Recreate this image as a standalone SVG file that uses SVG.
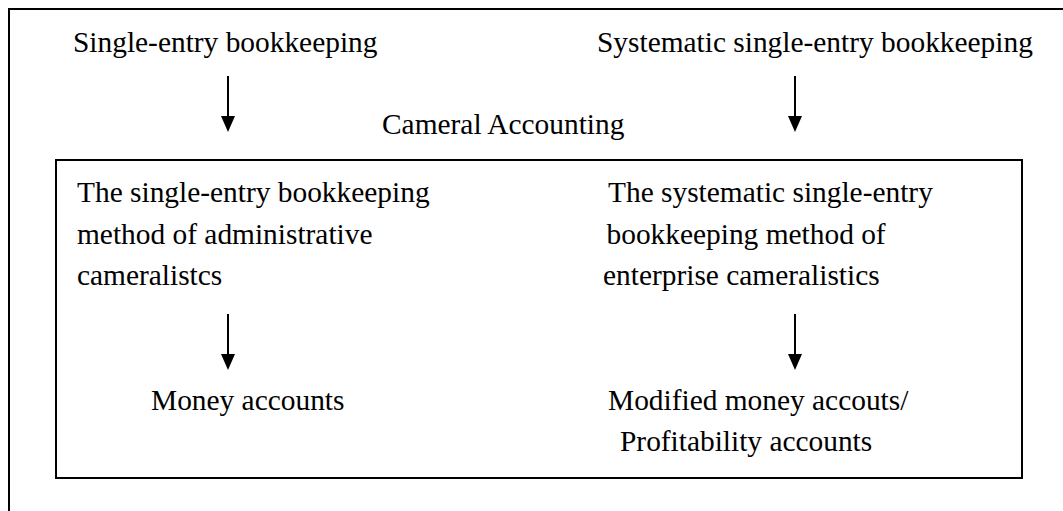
<svg xmlns="http://www.w3.org/2000/svg" width="1063" height="511" viewBox="0 0 1063 511">
<style>
  .t { font-family: 'Liberation Serif', 'DejaVu Serif', serif; font-size: 29.4px; fill: #000; }
  .frame { fill: none; stroke: #000; stroke-width: 2; }
  .conn { stroke: #000; stroke-width: 2; fill: none; }
  .head { fill: #000; stroke: none; }
</style>
<rect width="1063" height="511" fill="#fff"/>
<g id="outer-frame">
  <path class="frame" d="M9,511 L9,9 L1063,9"/>
</g>
<g class="t" font-family="Liberation Serif, serif" font-size="29.4">
<g id="node-single-entry"><text x="73" y="52">Single-entry bookkeeping</text></g>
<g id="node-systematic"><text x="597" y="52">Systematic single-entry bookkeeping</text></g>
<g id="node-cameral"><text x="382" y="134">Cameral Accounting</text></g>
<g id="node-admin">
  <text x="77" y="202">The single-entry bookkeeping</text>
  <text x="77" y="243.5">method of administrative</text>
  <text x="77" y="285">cameralistcs</text>
</g>
<g id="node-enterprise">
  <text x="608" y="202">The systematic single-entry</text>
  <text x="606.5" y="243.5">bookkeeping method of</text>
  <text x="603" y="285">enterprise cameralistics</text>
</g>
<g id="node-money"><text x="151" y="410">Money accounts</text></g>
<g id="node-modified">
  <text x="608" y="410">Modified money accouts/</text>
  <text x="620" y="451">Profitability accounts</text>
</g>
</g>
<g id="node-box">
  <rect class="frame" x="56" y="160" width="966" height="318"/>
</g>
<g id="connectors">
  <line class="conn" x1="228" y1="76" x2="228" y2="118"/>
  <polygon class="head" points="221,116 235,116 228,132"/>
  <line class="conn" x1="795" y1="76" x2="795" y2="118"/>
  <polygon class="head" points="788,116 802,116 795,132"/>
  <line class="conn" x1="228" y1="314" x2="228" y2="356"/>
  <polygon class="head" points="221,354 235,354 228,370"/>
  <line class="conn" x1="795" y1="314" x2="795" y2="356"/>
  <polygon class="head" points="788,354 802,354 795,370"/>
</g>
</svg>
